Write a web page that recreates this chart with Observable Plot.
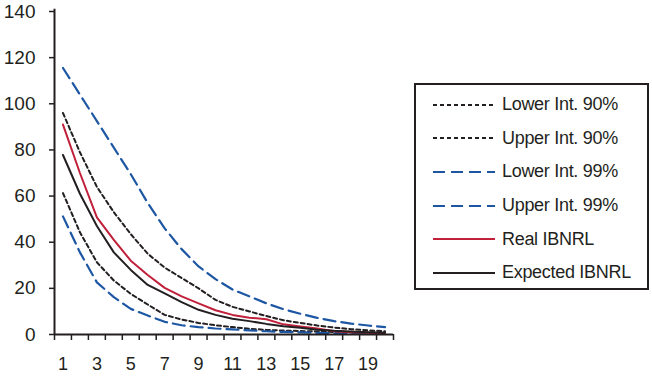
<!DOCTYPE html>
<html>
<head>
<meta charset="utf-8">
<script src="https://cdn.jsdelivr.net/npm/d3@7"></script>
<script src="https://cdn.jsdelivr.net/npm/@observablehq/plot@0.6"></script>
<style>
  html, body { margin: 0; padding: 0; background: #fff; }
  #wrap { position: relative; width: 652px; height: 376px; font-family: "Liberation Sans", Arial, sans-serif; }
  #legend { position: absolute; left: 414px; top: 83px; width: 231px; height: 200px; border: 2px solid #231f20; padding-top: 3px; box-sizing: content-box; }
  #legend .row { display: flex; align-items: center; height: 33.6px; }
  #legend svg { margin-left: 17px; margin-right: 7px; flex: none; }
  #legend span { font-size: 18px; color: #231f20; letter-spacing: -0.3px; white-space: nowrap; }
</style>
</head>
<body>
<div id="wrap"><div id="chart"></div><div id="legend"></div></div>
<script>
const periods = d3.range(1, 21);
const xTickLabels = [1, 3, 5, 7, 9, 11, 13, 15, 17, 19];
const yTickLabels = [0, 20, 40, 60, 80, 100, 120, 140];
const seriesNames = ["Lower Int. 90%", "Upper Int. 90%", "Lower Int. 99%", "Upper Int. 99%", "Real IBNRL", "Expected IBNRL"];

const lower90 = [61.3, 44.3, 31.3, 23.4, 17.6, 13, 8.5, 6.5, 5, 4, 3.2, 2.5, 2, 1.7, 1.5, 1.3, 1.1, 1, 0.9, 0.8];
const upper90 = [96, 79, 64, 53, 43.5, 35, 29, 24.5, 20, 15, 12, 10, 8, 6.2, 5, 3.9, 3, 2.3, 1.8, 1.4];
const lower99 = [51.2, 35.6, 22.6, 16.2, 11.1, 8.2, 5.5, 4, 3.2, 2.6, 2.2, 1.8, 1.4, 1.1, 0.9, 0.7, 0.5, 0.4, 0.3, 0.3];
const upper99 = [115.5, 104, 92.5, 81, 69.5, 57, 46, 37, 29.5, 24, 19.5, 16.5, 13.5, 11, 9, 7.2, 5.8, 4.7, 3.9, 3.2];
const realIBNRL = [91, 70, 50.8, 41, 32, 25.8, 20.2, 16.5, 13.5, 10.5, 8.5, 7.3, 6.6, 4.4, 3.5, 2.6, 1.4, 1, 0.8, 0.3];
const expectedIBNRL = [77.8, 61, 47, 35.6, 28, 21.5, 17.8, 14, 10.7, 8.5, 6.8, 5.8, 4.6, 3.6, 2.9, 2.1, 1.6, 1.3, 1.0, 0.8];

const seriesValues = [lower90, upper90, lower99, upper99, realIBNRL, expectedIBNRL];

const styles = {
  "Lower Int. 90%": { stroke: "#231f20", dash: "4,3", width: 2 },
  "Upper Int. 90%": { stroke: "#231f20", dash: "4,3", width: 2 },
  "Lower Int. 99%": { stroke: "#1d57a3", dash: "12,6", width: 2.2 },
  "Upper Int. 99%": { stroke: "#1d57a3", dash: "12,6", width: 2.2 },
  "Real IBNRL": { stroke: "#c1203a", dash: null, width: 2 },
  "Expected IBNRL": { stroke: "#231f20", dash: null, width: 2 }
};

const boundaries = d3.range(0.5, 21, 1);
const axisColor = "#231f20";

const lineMarks = seriesNames.map((name, i) => {
  const data = periods.map((p, j) => ({ period: p, value: seriesValues[i][j] }));
  const s = styles[name];
  return Plot.line(data, { x: "period", y: "value", stroke: s.stroke, strokeWidth: s.width, strokeDasharray: s.dash ?? undefined, strokeLinejoin: "round" });
});

const chart = Plot.plot({
  width: 652,
  height: 376,
  marginLeft: 54,
  marginRight: 259,
  marginTop: 11,
  marginBottom: 42,
  style: { fontFamily: "'Liberation Sans', Arial, sans-serif", background: "#fff", color: axisColor },
  x: { type: "linear", domain: [0.5, 20.5] },
  y: { domain: [0, 140] },
  marks: [
    Plot.axisY(yTickLabels, { tickSize: 5, tickPadding: 14, fontSize: 19, stroke: axisColor, strokeWidth: 1.5, fill: axisColor, label: null }),
    Plot.axisX(boundaries, { tickSize: 6, text: null, stroke: axisColor, strokeWidth: 1.5, label: null }),
    Plot.axisX(xTickLabels, { tickSize: 0, tickPadding: 23, fontSize: 18, fill: axisColor, label: null }),
    ...lineMarks,
    Plot.ruleX([0.5], { stroke: axisColor, strokeWidth: 2, y1: 0, y2: 141 }),
    Plot.ruleY([0], { stroke: axisColor, strokeWidth: 2 })
  ]
});
document.getElementById("chart").appendChild(chart);

const legend = document.getElementById("legend");
seriesNames.forEach(name => {
  const s = styles[name];
  const row = document.createElement("div");
  row.className = "row";
  const ns = "http://www.w3.org/2000/svg";
  const svg = document.createElementNS(ns, "svg");
  svg.setAttribute("width", 62);
  svg.setAttribute("height", 6);
  const ln = document.createElementNS(ns, "line");
  ln.setAttribute("x1", 0); ln.setAttribute("x2", 62);
  ln.setAttribute("y1", 3); ln.setAttribute("y2", 3);
  ln.setAttribute("stroke", s.stroke);
  ln.setAttribute("stroke-width", s.width);
  if (s.dash) ln.setAttribute("stroke-dasharray", s.dash);
  svg.appendChild(ln);
  const span = document.createElement("span");
  span.textContent = name;
  row.appendChild(svg);
  row.appendChild(span);
  legend.appendChild(row);
});
</script>
</body>
</html>
